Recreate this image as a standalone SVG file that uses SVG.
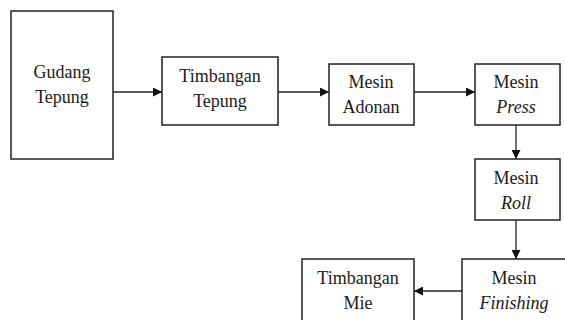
<svg xmlns="http://www.w3.org/2000/svg" width="565" height="320" viewBox="0 0 565 320">
<style>
.box{fill:#fff;stroke:#222;stroke-width:1.5}
.t{font-family:"Liberation Serif","Times New Roman",serif;font-size:18px;fill:#1a1a1a;text-anchor:middle}
.i{font-style:italic}
.c{stroke:#222;stroke-width:1.3;fill:none;marker-end:url(#ah)}
</style>
<defs>
<marker id="ah" viewBox="0 0 10 10" refX="10" refY="5" markerWidth="9" markerHeight="9" markerUnits="userSpaceOnUse" orient="auto">
<path d="M0,0L10,5L0,10z" fill="#111"/>
</marker>
</defs>
<rect width="565" height="320" fill="#fff"/>
<g id="connectors">
<line class="c" x1="113" y1="92" x2="162" y2="92"/>
<line class="c" x1="278" y1="92" x2="329" y2="92"/>
<line class="c" x1="414" y1="92" x2="475" y2="92"/>
<line class="c" x1="516" y1="125" x2="516" y2="159"/>
<line class="c" x1="516" y1="220" x2="516" y2="259"/>
<line class="c" x1="462" y1="291" x2="414" y2="291"/>
</g>
<g id="gudang">
<rect class="box" x="11" y="11" width="102" height="148"/>
<text class="t" x="62" y="78">Gudang</text>
<text class="t" x="62" y="103">Tepung</text>
</g>
<g id="timbangan-tepung">
<rect class="box" x="162" y="57" width="116" height="68"/>
<text class="t" x="220" y="82">Timbangan</text>
<text class="t" x="220" y="107">Tepung</text>
</g>
<g id="mesin-adonan">
<rect class="box" x="329" y="64" width="85" height="61"/>
<text class="t" x="371" y="88">Mesin</text>
<text class="t" x="371" y="113">Adonan</text>
</g>
<g id="mesin-press">
<rect class="box" x="475" y="64" width="85" height="61"/>
<text class="t" x="516" y="88">Mesin</text>
<text class="t i" x="516" y="113">Press</text>
</g>
<g id="mesin-roll">
<rect class="box" x="475" y="159" width="85" height="61"/>
<text class="t" x="516" y="184">Mesin</text>
<text class="t i" x="516" y="209">Roll</text>
</g>
<g id="mesin-finishing">
<rect class="box" x="462" y="259" width="110" height="70"/>
<text class="t" x="514" y="284">Mesin</text>
<text class="t i" x="514" y="309">Finishing</text>
</g>
<g id="timbangan-mie">
<rect class="box" x="302" y="259" width="112" height="70"/>
<text class="t" x="358" y="284">Timbangan</text>
<text class="t" x="358" y="309">Mie</text>
</g>
</svg>
